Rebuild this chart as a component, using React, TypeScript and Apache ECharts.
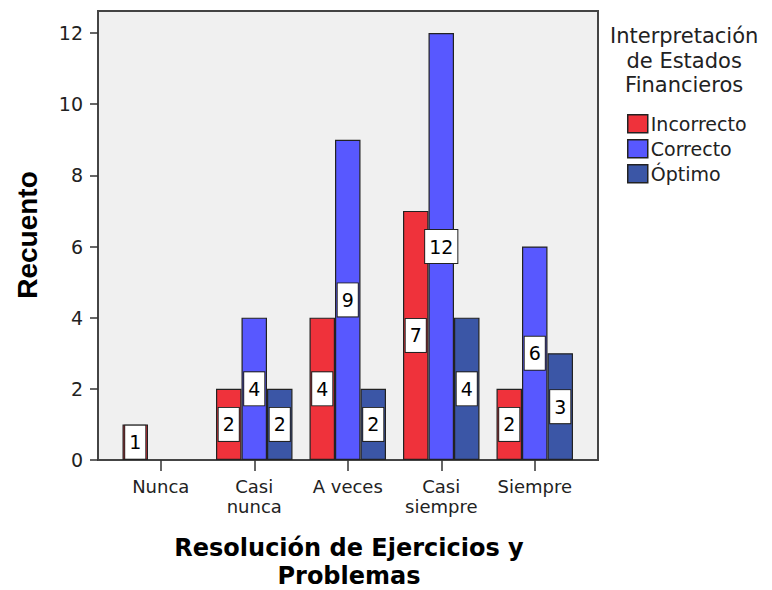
import React, { useEffect, useRef } from "react";
import * as echarts from "echarts";

const categories = ["Nunca", "Casi\nnunca", "A veces", "Casi\nsiempre", "Siempre"];
const seriesNames = ["Incorrecto", "Correcto", "Óptimo"];
const incorrecto = [1, 2, 4, 7, 2];
const correcto = [null, 4, 9, 12, 6];
const optimo = [null, 2, 2, 4, 3];
const colors = ["#ef323b", "#5858ff", "#3b56a6"];
const yTicks = { min: 0, max: 12, interval: 2 };
const legendTitle = "Interpretación\nde Estados\nFinancieros";
const xTitleLines = ["Resolución de Ejercicios y", "Problemas"];
const yTitle = "Recuento";

const REG = "DejaVu Sans";
const BOLD = "Liberation Sans";

export default function App() {
  const ref = useRef<HTMLDivElement>(null);
  useEffect(() => {
    const chart = echarts.init(ref.current!, null, { renderer: "svg" });
    const data = [incorrecto, correcto, optimo];
    const labelStyle = {
      show: true,
      position: "inside",
      color: "#000",
      fontFamily: REG,
      fontSize: 19,
      lineHeight: 19,
      backgroundColor: "#fff",
      borderColor: "#222",
      borderWidth: 1,
      padding: [7, 4],
    };
    chart.setOption({
      animation: false,
      grid: { left: 114, right: 190.5, top: 33, bottom: 130, containLabel: false },
      xAxis: {
        type: "category",
        data: categories,
        axisLine: { show: false },
        axisTick: { show: true, alignWithLabel: true, length: 11, lineStyle: { color: "#333", width: 1.5 } },
        axisLabel: { interval: 0, margin: 16, color: "#222", fontFamily: REG, fontSize: 18, lineHeight: 20 },
      },
      yAxis: {
        type: "value",
        min: yTicks.min,
        max: yTicks.max,
        interval: yTicks.interval,
        offset: 16,
        axisLine: { show: false },
        axisTick: { show: true, length: 8, lineStyle: { color: "#333", width: 1.5 } },
        splitLine: { show: false },
        axisLabel: { margin: 15, color: "#222", fontFamily: REG, fontSize: 19 },
      },
      legend: {
        orient: "vertical",
        left: 627,
        top: 114,
        padding: 0,
        itemWidth: 20,
        itemHeight: 18,
        itemGap: 5.5,
        icon: "rect",
        data: seriesNames,
        itemStyle: { borderColor: "#222", borderWidth: 1.5 },
        textStyle: { color: "#222", fontFamily: REG, fontSize: 19, lineHeight: 18, padding: [0, 0, 0, -2] },
      },
      graphic: {
        elements: [
          {
            type: "rect",
            z: 0,
            shape: { x: 98, y: 11, width: 500, height: 449 },
            style: { fill: "#f0f0f0", stroke: "#444", lineWidth: 2 },
          },
          {
            type: "text",
            left: 690 - 80,
            top: 24,
            style: {
              text: legendTitle,
              x: 80,
              textAlign: "center",
              fill: "#222",
              font: `21px "${REG}"`,
              lineHeight: 24.5,
            },
          },
          {
            type: "text",
            x: 27,
            y: 235,
            rotation: Math.PI / 2,
            style: {
              text: yTitle,
              textAlign: "center",
              textVerticalAlign: "middle",
              fill: "#000",
              font: `bold 28px "${BOLD}"`,
            },
          },
          ...xTitleLines.map((t, i) => ({
            type: "text",
            x: 349,
            y: 548 + i * 28,
            style: {
              text: t,
              textAlign: "center",
              textVerticalAlign: "middle",
              fill: "#000",
              font: `bold 24px "DejaVu Sans"`,
            },
          })),
        ],
      },
      series: seriesNames.map((name, i) => ({
        name,
        type: "bar",
        data: data[i],
        barWidth: 25.5,
        barGap: "0%",
        itemStyle: { color: colors[i], borderColor: "#222", borderWidth: 1.2 },
        label: labelStyle,
      })),
    });
    return () => chart.dispose();
  }, []);
  return <div ref={ref} style={{ position: "absolute", left: 0, top: 0, width: 772, height: 590 }} />;
}
